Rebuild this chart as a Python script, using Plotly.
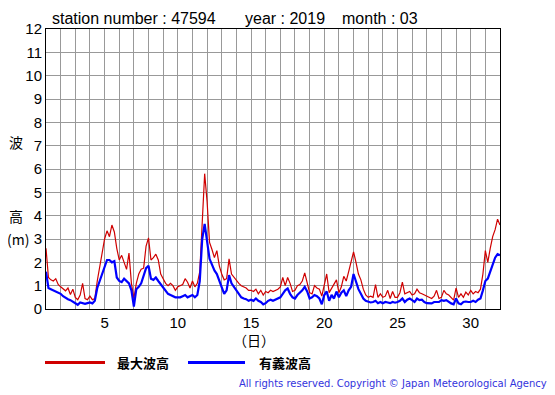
import numpy as np
import plotly.graph_objects as go

# 4-hourly samples, day 1.00 .. 32.00
max_wave = [
    2.6, 1.35, 1.25, 1.2, 1.3, 1.05,
    0.95, 0.85, 0.78, 0.9, 0.62, 0.85,
    0.5, 0.4, 0.6, 1.1, 0.45, 0.4,
    0.55, 0.4, 0.45, 1.2, 1.8, 2.4,
    3.0, 3.35, 3.1, 3.6, 3.3, 2.6,
    2.1, 2.3, 2.0, 1.7, 2.4, 1.1,
    0.45, 1.1, 1.5, 1.7, 1.75, 2.7,
    3.05, 2.1, 2.2, 2.35, 2.1, 1.5,
    1.3, 1.1, 1.0, 1.1, 1.0, 0.8,
    0.95, 1.0, 1.05, 1.3, 1.15, 0.9,
    1.2, 0.95, 1.1, 1.6, 4.0, 5.8,
    4.6, 2.85, 2.55, 2.2, 2.5, 1.85,
    1.5, 1.25, 1.3, 2.15, 1.5, 1.35,
    1.2, 1.1, 1.0, 0.95, 0.9, 0.8,
    0.8, 0.75, 0.85, 0.65, 0.8, 0.6,
    0.75, 0.7, 0.8, 0.75, 0.8, 0.85,
    0.95, 1.35, 1.0, 1.35, 1.1, 0.75,
    0.8, 1.0, 1.05, 1.2, 1.55, 1.1,
    0.7, 0.65, 1.0, 0.9, 0.85, 0.55,
    1.1, 1.5, 0.7, 0.9, 1.1, 1.25,
    0.7, 0.95, 1.4, 1.2, 1.6, 2.0,
    2.45, 2.0, 1.5, 1.25, 0.85, 0.6,
    0.5, 0.55, 0.5, 1.05, 0.5, 0.65,
    0.5, 0.55, 0.8, 0.45, 0.75, 0.5,
    0.5, 0.7, 1.15, 0.65, 0.7, 0.75,
    0.6, 0.65, 0.85, 0.7, 0.65, 0.6,
    0.55, 0.5, 0.45, 0.55, 0.8, 0.45,
    0.5, 0.8, 0.65, 0.6, 0.5, 0.38,
    0.9, 0.5, 0.65, 0.5, 0.72, 0.6,
    0.8, 0.65, 0.75, 0.7, 0.85, 1.5,
    2.5, 2.0, 2.6, 3.1, 3.4, 3.85,
    3.6,
]

sig_wave = [
    1.6, 0.9, 0.85, 0.8, 0.78, 0.7,
    0.65, 0.55, 0.48, 0.42, 0.38, 0.32,
    0.25, 0.18, 0.28, 0.25, 0.22, 0.25,
    0.28, 0.24, 0.35, 0.9, 1.2, 1.55,
    1.85, 2.1, 2.1, 2.0, 2.05, 1.35,
    1.2, 1.15, 1.3, 1.2, 1.1, 0.8,
    0.1, 0.85, 0.95, 1.1, 1.4, 1.75,
    1.85, 1.3, 1.25, 1.35, 1.2, 1.05,
    0.9, 0.75, 0.65, 0.6, 0.55, 0.5,
    0.5, 0.5, 0.55, 0.6, 0.5, 0.55,
    0.6, 0.5, 0.6, 1.2, 3.0, 3.65,
    2.9, 2.15, 1.9, 1.65, 1.5, 1.2,
    0.9, 0.65, 0.8, 1.45, 1.1, 0.95,
    0.75, 0.6, 0.5, 0.45, 0.42, 0.35,
    0.4, 0.35, 0.45, 0.35, 0.3, 0.2,
    0.25, 0.35, 0.4, 0.35, 0.4, 0.45,
    0.5, 0.65, 0.8, 0.88, 0.65, 0.5,
    0.45, 0.6, 0.7, 0.8, 0.95, 0.75,
    0.45, 0.5, 0.6, 0.55, 0.45, 0.2,
    0.6, 0.75, 0.35, 0.6, 0.45, 0.75,
    0.5, 0.7, 0.8, 0.55, 0.8, 0.95,
    1.5, 1.15, 0.85, 0.65, 0.45, 0.35,
    0.3, 0.28, 0.3, 0.35, 0.25, 0.3,
    0.25, 0.3, 0.28, 0.25, 0.3, 0.27,
    0.3, 0.35, 0.45, 0.3, 0.4, 0.45,
    0.38, 0.3, 0.45, 0.38, 0.4, 0.3,
    0.25, 0.24, 0.24, 0.3, 0.3, 0.3,
    0.38, 0.35, 0.38, 0.3, 0.24, 0.2,
    0.45, 0.24, 0.2, 0.3, 0.32, 0.3,
    0.3, 0.35, 0.3, 0.4, 0.45, 0.8,
    1.2, 1.3, 1.6, 1.95, 2.2, 2.35,
    2.3,
]

days = 1 + np.arange(len(max_wave)) / 6.0

x_tick_vals = list(range(1, 33))
x_tick_text = [str(d) if d % 5 == 0 else "" for d in x_tick_vals]
y_tick_vals = list(range(0, 13))

title_parts = ["station number : 47594", "year : 2019", "month : 03"]
legend_names = ["最大波高", "有義波高"]
colors = ["#d00000", "#0000ff"]

FONT = "Liberation Sans, Arial, sans-serif"
CJK = "Noto Sans CJK JP, sans-serif"

# page has an 8px body margin; plot area is at page x 46..500, y 26..309
PW, PH = 454.0, 283.0

fig = go.Figure()
fig.add_trace(go.Scatter(x=days, y=max_wave, mode="lines", name=legend_names[0],
                         line=dict(color=colors[0], width=1.2)))
fig.add_trace(go.Scatter(x=days, y=sig_wave, mode="lines", name=legend_names[1],
                         line=dict(color=colors[1], width=2.2)))

fig.update_layout(
    width=547, height=387,
    margin=dict(l=38, r=55, t=18, b=86),
    paper_bgcolor="white", plot_bgcolor="white",
    showlegend=False,
    font=dict(family=FONT, size=15, color="black"),
)
fig.update_xaxes(range=[1, 32], tickvals=x_tick_vals, ticktext=x_tick_text,
                 showgrid=True, gridcolor="#999999", gridwidth=1,
                 showline=True, linecolor="black", linewidth=1, mirror=True,
                 ticks="", zeroline=False, tickfont=dict(size=15, family=FONT))
fig.update_yaxes(range=[0, 12], tickvals=y_tick_vals,
                 showgrid=True, gridcolor="#999999", gridwidth=1,
                 showline=True, linecolor="black", linewidth=1, mirror=True,
                 ticks="", zeroline=False, tickfont=dict(size=15, family=FONT))

ann = []
for txt, xx in zip(title_parts, [50, 243, 340]):
    ann.append(dict(text=txt, xref="paper", yref="paper", x=(xx - 46) / PW, y=(309 - 15) / PH,
                    xanchor="left", yanchor="middle", showarrow=False,
                    font=dict(size=16, family=FONT)))
ann.append(dict(text="（日）", xref="paper", yref="paper", x=(254 - 46) / PW, y=-(340 - 309) / PH,
                xanchor="center", yanchor="middle", showarrow=False,
                font=dict(size=14, family=CJK)))
for t, xx, yy in [("波", 16, 140), ("高", 16, 215), ("(m)", 18, 238)]:
    ann.append(dict(text=t, xref="paper", yref="paper",
                    x=(xx - 46) / PW, y=(309 - yy) / PH,
                    xanchor="center", yanchor="middle", showarrow=False,
                    font=dict(size=14, family=CJK)))
# legend
shapes = []
leg_y = -(363 - 309) / PH
for (x0, x1, tx), name, c in zip([(45, 105, 115), (188, 245, 257)], legend_names, colors):
    shapes.append(dict(type="line", xref="paper", yref="paper",
                       x0=(x0 - 46) / PW, x1=(x1 - 46) / PW, y0=leg_y, y1=leg_y,
                       line=dict(color=c, width=3)))
    ann.append(dict(text="<b>%s</b>" % name, xref="paper", yref="paper",
                    x=(tx - 46) / PW, y=leg_y, xanchor="left", yanchor="middle",
                    showarrow=False, font=dict(size=13, family=CJK)))
ann.append(dict(text="All rights reserved. Copyright © Japan Meteorological Agency",
                xref="paper", yref="paper", x=(549 - 46) / PW, y=-(384 - 309) / PH,
                xanchor="right", yanchor="middle", showarrow=False,
                font=dict(size=10, family="DejaVu Sans, sans-serif", color="#3333dd")))
fig.update_layout(annotations=ann, shapes=shapes)

fig.write_html("out.html")
